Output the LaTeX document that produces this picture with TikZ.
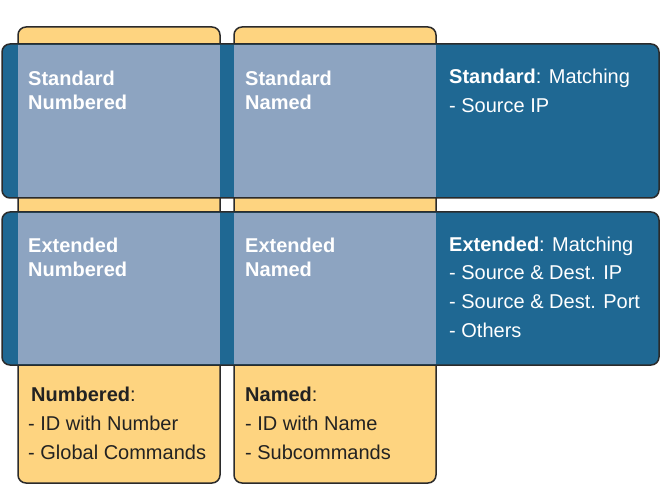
\documentclass[tikz,border=0pt]{standalone}
\usepackage{fontspec}
\setmainfont{Liberation Sans}
\definecolor{rowblue}{HTML}{1F6893}
\definecolor{overlap}{HTML}{8DA4C1}
\definecolor{coly}{HTML}{FED480}
\definecolor{edge}{HTML}{2B2B2B}
\definecolor{dtext}{HTML}{222222}
\begin{document}
\begin{tikzpicture}[x=1pt,y=-1pt,
  colbox/.style={fill=coly,draw=edge,line width=1.5pt,rounded corners=8pt},
  rowbox/.style={fill=rowblue,draw=edge,line width=1.5pt,rounded corners=8pt},
  ovbox/.style={fill=overlap,draw=none},
  wtxt/.style={inner sep=0pt,anchor=base west,text=white,font=\fontsize{20}{24}\selectfont},
  dtxt/.style={inner sep=0pt,anchor=base west,text=dtext,font=\fontsize{20}{24}\selectfont}]
\useasboundingbox (0,0) rectangle (669,489);
% columns
\draw[colbox] (18,27) rectangle (220,483);
\draw[colbox] (234,27) rectangle (436,483);
% rows
\draw[rowbox] (2,44) rectangle (659,198);
\draw[rowbox] (2,212) rectangle (659,365);
% overlaps
\fill[ovbox] (18,44.8) rectangle (220,197.2);
\fill[ovbox] (234,44.8) rectangle (436,197.2);
\fill[ovbox] (18,212.8) rectangle (220,364.2);
\fill[ovbox] (234,212.8) rectangle (436,364.2);
% overlap labels
\node[wtxt] (sn1) at (28,85.5) {\textbf{Standard}};
\node[wtxt] (sn2) at (28,110) {\textbf{Numbered}};
\node[wtxt] (sa1) at (245,85.5) {\textbf{Standard}};
\node[wtxt] (sa2) at (245,110) {\textbf{Named}};
\node[wtxt] (en1) at (28,252.3) {\textbf{Extended}};
\node[wtxt] (en2) at (28,276.7) {\textbf{Numbered}};
\node[wtxt] (ea1) at (245,252.3) {\textbf{Extended}};
\node[wtxt] (ea2) at (245,276.7) {\textbf{Named}};
% row descriptions
\node[wtxt] (st1) at (449,83.3) {\textbf{Standard}: Matching};
\node[wtxt] (st2) at (449,112.3) {- Source IP};
\node[wtxt] (ex1) at (449,251.7) {\textbf{Extended}: Matching};
\node[wtxt] (ex2) at (449,279) {- Source \& Dest. IP};
\node[wtxt] (ex3) at (449,308.3) {- Source \& Dest. Port};
\node[wtxt] (ex4) at (449,337.3) {- Others};
% column descriptions
\node[dtxt] (nu1) at (31,401) {\textbf{Numbered}:};
\node[dtxt] (nu2) at (28,430) {- ID with Number};
\node[dtxt] (nu3) at (28,459) {- Global Commands};
\node[dtxt] (na1) at (245,401) {\textbf{Named}:};
\node[dtxt] (na2) at (245,430) {- ID with Name};
\node[dtxt] (na3) at (245,459) {- Subcommands};
\end{tikzpicture}
\end{document}
